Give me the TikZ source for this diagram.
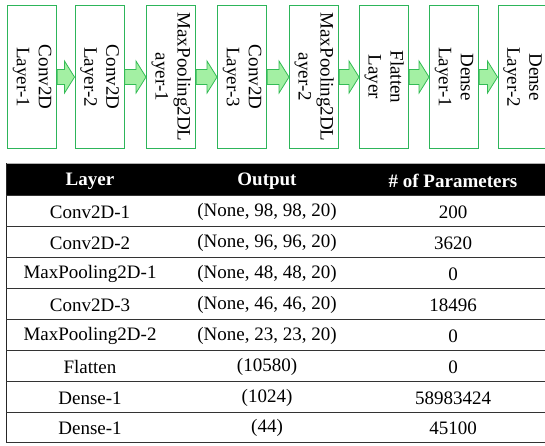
\documentclass[tikz,border=0pt]{standalone}
\usepackage{fontspec}
\setmainfont{Liberation Serif}
\definecolor{boxgreen}{HTML}{2DB55A}
\definecolor{arrowfill}{HTML}{A3F0A3}
\definecolor{arrowline}{HTML}{33BB55}
\begin{document}
\begin{tikzpicture}[x=1pt,y=-1pt,
  layerbox/.style={draw=boxgreen,line width=1.1pt,minimum width=49pt,minimum height=143pt,inner sep=0pt,anchor=north west},
  boxtext/.style={rotate=-90,align=center,font=\fontsize{19}{22}\selectfont,inner sep=0pt},
  blockarrow/.style={draw=arrowline,fill=arrowfill,line width=0.8pt,line join=miter},
  hdr/.style={font=\fontsize{19}{20}\selectfont\bfseries,text=white,anchor=center,inner sep=0pt},
  cell/.style={font=\fontsize{19}{20}\selectfont,anchor=center,inner sep=0pt},
  rowline/.style={draw=black!80,line width=0.9pt}]
\useasboundingbox (0,0) rectangle (545,445);
% boxes
\node[layerbox] (b1) at (7,5) {};
\node[layerbox] (b2) at (74.5,5) {};
\node[layerbox] (b3) at (146,5) {};
\node[layerbox] (b4) at (217,5) {};
\node[layerbox] (b5) at (289,5) {};
\node[layerbox] (b6) at (359,5) {};
\node[layerbox] (b7) at (429,5) {};
\node[layerbox] (b8) at (497.5,5) {};
\node[boxtext] (t1) at (b1.center) {Conv2D\\Layer-1};
\node[boxtext] (t2) at (b2.center) {Conv2D\\Layer-2};
\node[boxtext] (t3) at (b3.center) {MaxPooling2DL\\ayer-1};
\node[boxtext] (t4) at (b4.center) {Conv2D\\Layer-3};
\node[boxtext] (t5) at (b5.center) {MaxPooling2DL\\ayer-2};
\node[boxtext] (t6) at (b6.center) {Flatten\\Layer};
\node[boxtext] (t7) at (b7.center) {Dense\\Layer-1};
\node[boxtext] (t8) at (b8.center) {Dense\\Layer-2};
% block arrows
\foreach \a/\b in {b1/b2,b2/b3,b3/b4,b4/b5,b5/b6,b6/b7,b7/b8}{
  \draw[blockarrow] ([yshift=7.5pt]\a.east) -- ([xshift=-10pt,yshift=7.5pt]\b.west)
    -- ([xshift=-10pt,yshift=16pt]\b.west) -- (\b.west)
    -- ([xshift=-10pt,yshift=-16pt]\b.west) -- ([xshift=-10pt,yshift=-7.5pt]\b.west)
    -- ([yshift=-7.5pt]\a.east) -- cycle;
}
% table
\fill[black] (6,164) rectangle (545,195);
\draw[black!30,line width=0.8pt] (6,163.5) -- (545,163.5);
\draw[black!85,line width=1pt] (6,163) -- (6,442);
\foreach \yy in {195.5,226.5,257.5,288.5,319.5,350.5,381.5,412.5,442}{
  \draw[rowline] (6,\yy) -- (545,\yy);
}
\node[hdr] (h1) at (90,181) {Layer};
\node[hdr] (h2) at (267,181) {Output};
\node[hdr] (h3) at (453,181) {\# of Parameters};
\node[cell] (r1a) at (90,212) {Conv2D-1};
\node[cell] (r1b) at (267,212) {(None, 98, 98, 20)};
\node[cell] (r1c) at (453,212) {200};
\node[cell] (r2a) at (90,243) {Conv2D-2};
\node[cell] (r2b) at (267,243) {(None, 96, 96, 20)};
\node[cell] (r2c) at (453,243) {3620};
\node[cell] (r3a) at (90,274) {MaxPooling2D-1};
\node[cell] (r3b) at (267,274) {(None, 48, 48, 20)};
\node[cell] (r3c) at (453,274) {0};
\node[cell] (r4a) at (90,305) {Conv2D-3};
\node[cell] (r4b) at (267,305) {(None, 46, 46, 20)};
\node[cell] (r4c) at (453,305) {18496};
\node[cell] (r5a) at (90,336) {MaxPooling2D-2};
\node[cell] (r5b) at (267,336) {(None, 23, 23, 20)};
\node[cell] (r5c) at (453,336) {0};
\node[cell] (r6a) at (90,367) {Flatten};
\node[cell] (r6b) at (267,367) {(10580)};
\node[cell] (r6c) at (453,367) {0};
\node[cell] (r7a) at (90,398) {Dense-1};
\node[cell] (r7b) at (267,398) {(1024)};
\node[cell] (r7c) at (453,398) {58983424};
\node[cell] (r8a) at (90,428) {Dense-1};
\node[cell] (r8b) at (267,428) {(44)};
\node[cell] (r8c) at (453,428) {45100};
\end{tikzpicture}
\end{document}
